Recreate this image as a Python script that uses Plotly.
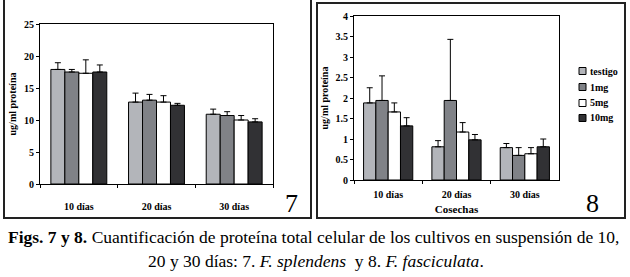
import plotly.graph_objects as go

W, H = 630, 277

categories = ["10 días", "20 días", "30 días"]
series_names = ["testigo", "1mg", "5mg", "10mg"]
colors = ["#b3b5ba", "#808287", "#ffffff", "#313134"]

# Fig. 7 (F. splendens)
f7_values = [
    [17.9, 12.8, 10.9],
    [17.5, 13.1, 10.7],
    [17.3, 12.8, 10.0],
    [17.5, 12.3, 9.7],
]
f7_err = [
    [1.05, 1.4, 0.8],
    [0.4, 0.9, 0.6],
    [2.1, 1.0, 0.7],
    [1.1, 0.3, 0.5],
]

# Fig. 8 (F. fasciculata)
f8_values = [
    [1.88, 0.81, 0.79],
    [1.94, 1.94, 0.60],
    [1.66, 1.17, 0.64],
    [1.32, 0.98, 0.81],
]
f8_err = [
    [0.37, 0.15, 0.10],
    [0.60, 1.49, 0.19],
    [0.22, 0.23, 0.15],
    [0.20, 0.13, 0.19],
]

f7_ticks = [0, 5, 10, 15, 20, 25]
f8_ticks = [0, 0.5, 1, 1.5, 2, 2.5, 3, 3.5, 4]
f8_ticktext = ["0", "0.5", "1", "1.5", "2", "2.5", "3", "3.5", "4"]

SERIF = "Liberation Serif, Times New Roman, DejaVu Serif, serif"


def px_x(p):
    return p / W


def px_y(p):
    return (H - p) / H


fig = go.Figure()

for i, name in enumerate(series_names):
    fig.add_trace(go.Bar(
        x=categories, y=f7_values[i], name=name, xaxis="x", yaxis="y",
        marker=dict(color=colors[i], line=dict(color="#000000", width=1)),
        error_y=dict(type="data", array=f7_err[i], symmetric=False,
                     arrayminus=[0] * 3, color="#000000", thickness=1, width=3),
        showlegend=False,
    ))

for i, name in enumerate(series_names):
    fig.add_trace(go.Bar(
        x=categories, y=f8_values[i], name=name, xaxis="x2", yaxis="y2",
        marker=dict(color=colors[i], line=dict(color="#000000", width=1)),
        error_y=dict(type="data", array=f8_err[i], symmetric=False,
                     arrayminus=[0] * 3, color="#000000", thickness=1, width=3),
        showlegend=False,
    ))

tickfont = dict(family=SERIF, size=10, color="#000000", weight="bold")

axis_common = dict(showline=True, linecolor="#000000", linewidth=1, mirror=True,
                   showgrid=False, zeroline=False, ticks="outside",
                   tickcolor="#000000", ticklen=3, tickfont=tickfont,
                   automargin=False)

# Manual legend for Fig. 8 (small swatches + labels)
legend_y = [71, 87, 103, 118]
shapes = [
    dict(type="rect", xref="paper", yref="paper",
         x0=px_x(4), x1=px_x(311), y0=px_y(218), y1=px_y(-5),
         line=dict(color="#222222", width=2)),
    dict(type="rect", xref="paper", yref="paper",
         x0=px_x(317), x1=px_x(625), y0=px_y(218), y1=px_y(3),
         line=dict(color="#222222", width=2)),
]
annotations = [
    dict(text="7", x=px_x(291), y=px_y(203), xref="paper", yref="paper",
         yanchor="middle", showarrow=False, font=dict(family=SERIF, size=26, color="#000000")),
    dict(text="8", x=px_x(601), y=px_y(203), xref="paper", yref="paper",
         yanchor="middle", showarrow=False, font=dict(family=SERIF, size=26, color="#000000")),
    dict(text="<b>Figs. 7 y 8.</b> Cuantificación de proteína total celular de los cultivos en suspensión de 10,",
         x=px_x(313), y=px_y(237), xref="paper", yref="paper", yanchor="middle", showarrow=False,
         font=dict(family=SERIF, size=17.5, color="#000000")),
    dict(text="20 y 30 días: 7. <i>F. splendens</i>  y 8. <i>F. fasciculata</i>.",
         x=px_x(316), y=px_y(261), xref="paper", yref="paper", yanchor="middle", showarrow=False,
         font=dict(family=SERIF, size=17.5, color="#000000")),
]
for name, col, yy in zip(series_names, colors, legend_y):
    shapes.append(dict(type="rect", xref="paper", yref="paper",
                       x0=px_x(579), x1=px_x(586), y0=px_y(yy + 3.5), y1=px_y(yy - 3.5),
                       fillcolor=col, line=dict(color="#000000", width=1)))
    annotations.append(dict(text=name, x=px_x(588), y=px_y(yy), xref="paper", yref="paper",
                            xanchor="left", yanchor="middle", showarrow=False,
                            font=dict(family=SERIF, size=10, color="#000000", weight="bold")))

fig.update_layout(
    width=W, height=H,
    margin=dict(l=0, r=0, t=0, b=0, pad=0, autoexpand=False),
    paper_bgcolor="#ffffff", plot_bgcolor="#ffffff",
    barmode="group", bargap=0.28, bargroupgap=0,
    showlegend=False,
    xaxis=dict(domain=[px_x(40), px_x(273)], anchor="y", type="category",
               tickson="boundaries", ticklabelstandoff=13, **axis_common),
    yaxis=dict(domain=[px_y(184), px_y(24)], anchor="x", range=[0, 25],
               tickvals=f7_ticks,
               title=dict(text="ug/ml proteína", font=tickfont, standoff=5),
               **axis_common),
    xaxis2=dict(domain=[px_x(354), px_x(559)], anchor="y2", type="category",
                tickson="boundaries", ticklabelstandoff=5,
                title=dict(text="Cosechas", font=dict(family=SERIF, size=11, color="#000000", weight="bold"), standoff=6),
                **axis_common),
    yaxis2=dict(domain=[px_y(180), px_y(16)], anchor="x2", range=[0, 4],
                tickvals=f8_ticks, ticktext=f8_ticktext,
                title=dict(text="ug/ml proteína", font=tickfont, standoff=5),
                **axis_common),
    shapes=shapes,
    annotations=annotations,
)

fig.write_html("out.html", config={"displayModeBar": False},
               post_script="document.body.style.margin='0px';document.body.style.padding='0px';")
